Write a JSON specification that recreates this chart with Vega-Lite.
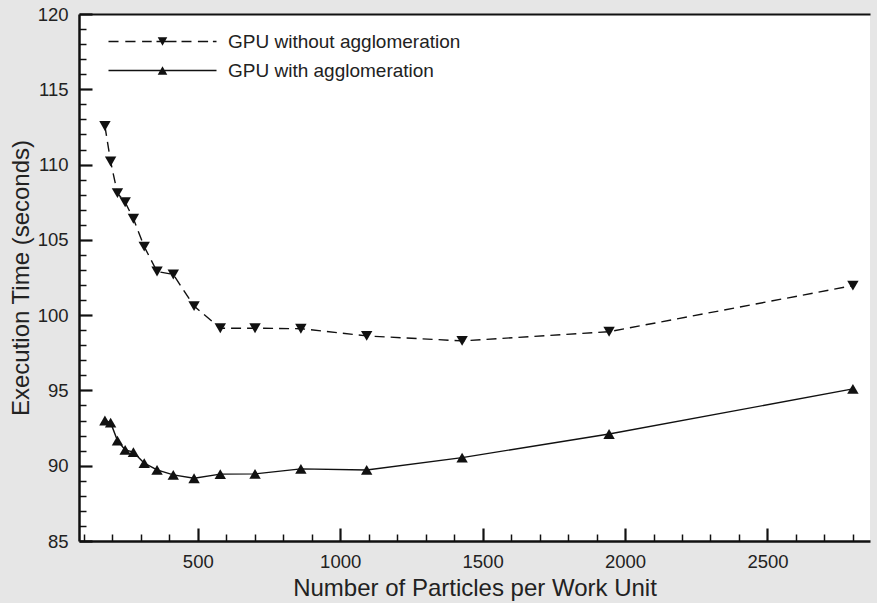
{
  "$schema": "https://vega.github.io/schema/vega-lite/v6.json",
  "width": 791,
  "height": 527,
  "autosize": {"type": "none"},
  "padding": {"left": 79, "top": 14, "right": 7, "bottom": 62},
  "background": "#e6e6e6",
  "config": {
    "view": {"fill": "white", "stroke": null},
    "font": "Liberation Sans",
    "axis": {
      "labelFont": "Liberation Sans",
      "titleFont": "Liberation Sans",
      "labelColor": "#222",
      "titleColor": "#222",
      "domainColor": "#111",
      "tickColor": "#111",
      "grid": false,
      "titleFontWeight": "normal",
      "labelOverlap": false,
      "labelFlush": false
    }
  },
  "data": {
    "values": [
      {"series": "GPU without agglomeration", "n": 174, "t": 112.56},
      {"series": "GPU without agglomeration", "n": 194, "t": 110.2},
      {"series": "GPU without agglomeration", "n": 218, "t": 108.1},
      {"series": "GPU without agglomeration", "n": 245, "t": 107.5},
      {"series": "GPU without agglomeration", "n": 274, "t": 106.4},
      {"series": "GPU without agglomeration", "n": 312, "t": 104.55},
      {"series": "GPU without agglomeration", "n": 357, "t": 102.9},
      {"series": "GPU without agglomeration", "n": 414, "t": 102.7},
      {"series": "GPU without agglomeration", "n": 487, "t": 100.6},
      {"series": "GPU without agglomeration", "n": 579, "t": 99.13},
      {"series": "GPU without agglomeration", "n": 701, "t": 99.13},
      {"series": "GPU without agglomeration", "n": 862, "t": 99.1},
      {"series": "GPU without agglomeration", "n": 1093, "t": 98.62},
      {"series": "GPU without agglomeration", "n": 1428, "t": 98.29},
      {"series": "GPU without agglomeration", "n": 1944, "t": 98.9},
      {"series": "GPU without agglomeration", "n": 2800, "t": 101.96},
      {"series": "GPU with agglomeration", "n": 174, "t": 93.0},
      {"series": "GPU with agglomeration", "n": 194, "t": 92.86},
      {"series": "GPU with agglomeration", "n": 218, "t": 91.67},
      {"series": "GPU with agglomeration", "n": 245, "t": 91.05},
      {"series": "GPU with agglomeration", "n": 274, "t": 90.9},
      {"series": "GPU with agglomeration", "n": 312, "t": 90.17},
      {"series": "GPU with agglomeration", "n": 357, "t": 89.72},
      {"series": "GPU with agglomeration", "n": 414, "t": 89.39},
      {"series": "GPU with agglomeration", "n": 487, "t": 89.17},
      {"series": "GPU with agglomeration", "n": 579, "t": 89.44},
      {"series": "GPU with agglomeration", "n": 701, "t": 89.46},
      {"series": "GPU with agglomeration", "n": 862, "t": 89.79},
      {"series": "GPU with agglomeration", "n": 1093, "t": 89.72},
      {"series": "GPU with agglomeration", "n": 1428, "t": 90.54},
      {"series": "GPU with agglomeration", "n": 1944, "t": 92.11},
      {"series": "GPU with agglomeration", "n": 2800, "t": 95.1}
    ]
  },
  "layer": [
    {
      "transform": [{"filter": "datum.series === 'GPU without agglomeration'"}],
      "mark": {"type": "line", "color": "#111", "strokeWidth": 1.4, "strokeDash": [10, 6]},
      "encoding": {
        "x": {
          "field": "n",
          "type": "quantitative",
          "scale": {"domain": [83, 2860], "nice": false, "zero": false},
          "axis": {
            "orient": "bottom",
            "values": [100, 200, 300, 400, 500, 600, 700, 800, 900, 1000, 1100, 1200, 1300, 1400, 1500, 1600, 1700, 1800, 1900, 2000, 2100, 2200, 2300, 2400, 2500, 2600, 2700, 2800],
            "tickCount": 1000,
            "format": "d",
            "labelExpr": "datum.value % 500 === 0 ? datum.label : ''",
            "tickSize": {"condition": {"test": "datum.value % 500 === 0", "value": -13}, "value": -7},
            "tickWidth": {"condition": {"test": "datum.value % 500 === 0", "value": 2.2}, "value": 1.5},
            "domainWidth": 2.5,
            "labelFontSize": 18.5,
            "labelBaseline": "alphabetic",
            "labelPadding": 39,
            "title": "Number of Particles per Work Unit",
            "titleFontSize": 24,
            "titleBaseline": "alphabetic",
            "titleY": 54
          }
        },
        "y": {
          "field": "t",
          "type": "quantitative",
          "scale": {"domain": [85, 120], "nice": false, "zero": false},
          "axis": {
            "values": [85, 86, 87, 88, 89, 90, 91, 92, 93, 94, 95, 96, 97, 98, 99, 100, 101, 102, 103, 104, 105, 106, 107, 108, 109, 110, 111, 112, 113, 114, 115, 116, 117, 118, 119, 120],
            "tickCount": 1000,
            "format": "d",
            "labelExpr": "datum.value % 5 === 0 ? datum.label : ''",
            "tickSize": {"condition": {"test": "datum.value % 5 === 0", "value": -13}, "value": -7},
            "tickWidth": {"condition": {"test": "datum.value % 5 === 0", "value": 2.2}, "value": 1.5},
            "domainWidth": 2.5,
            "labelFontSize": 18.5,
            "labelPadding": 24,
            "title": "Execution Time (seconds)",
            "titleFontSize": 24,
            "titleBaseline": "alphabetic",
            "titleX": -51
          }
        }
      }
    },
    {
      "transform": [{"filter": "datum.series === 'GPU with agglomeration'"}],
      "mark": {"type": "line", "color": "#111", "strokeWidth": 1.4},
      "encoding": {
        "x": {"field": "n", "type": "quantitative", "axis": null},
        "y": {"field": "t", "type": "quantitative"}
      }
    },
    {
      "mark": {"type": "point", "filled": true, "size": 130, "color": "#111", "opacity": 1},
      "encoding": {
        "x": {
          "field": "n",
          "type": "quantitative",
          "axis": {"orient": "top", "labels": false, "ticks": false, "domainWidth": 2, "title": null}
        },
        "y": {"field": "t", "type": "quantitative"},
        "shape": {
          "field": "series",
          "type": "nominal",
          "scale": {"domain": ["GPU without agglomeration", "GPU with agglomeration"], "range": ["triangle-down", "triangle-up"]},
          "legend": null
        }
      }
    },
    {
      "mark": {"type": "point", "filled": true, "size": 1, "color": "#111", "opacity": 0},
      "encoding": {
        "x": {"field": "n", "type": "quantitative", "axis": null},
        "y": {"field": "t", "type": "quantitative"},
        "shape": {
          "field": "series",
          "type": "nominal",
          "scale": {
            "domain": ["GPU without agglomeration", "GPU with agglomeration"],
            "range": [
              "M-9,-0.12H-7.33V0.12H-9ZM-6.2,-0.12H-4.5V0.12H-6.2ZM-3.4,-0.12H-1.8V0.12H-3.4ZM-1,-0.12H1V0.12H-1ZM0.67,-0.12H2.33V0.12H0.67ZM3.17,-0.12H4.83V0.12H3.17ZM5.9,-0.12H7.6V0.12H5.9ZM8.4,-0.12H9V0.12H8.4ZM-0.8,-0.7L0.8,-0.7L0,0.7Z",
              "M-9,-0.12H9V0.12H-9ZM0,-0.7L0.8,0.7L-0.8,0.7Z"
            ]
          },
          "legend": {
            "orient": "none",
            "legendX": 74,
            "legendY": 18,
            "title": null,
            "padding": 0,
            "symbolSize": 144,
            "symbolOpacity": 1,
            "symbolFillColor": "#111",
            "symbolStrokeColor": "#111",
            "symbolStrokeWidth": 0,
            "labelFont": "Liberation Sans",
            "labelFontSize": 19,
            "labelColor": "#222",
            "labelLimit": 0,
            "labelOffset": 56,
            "rowPadding": 9
          }
        }
      }
    }
  ],
  "resolve": {"axis": {"x": "independent"}, "scale": {"shape": "independent"}}
}
